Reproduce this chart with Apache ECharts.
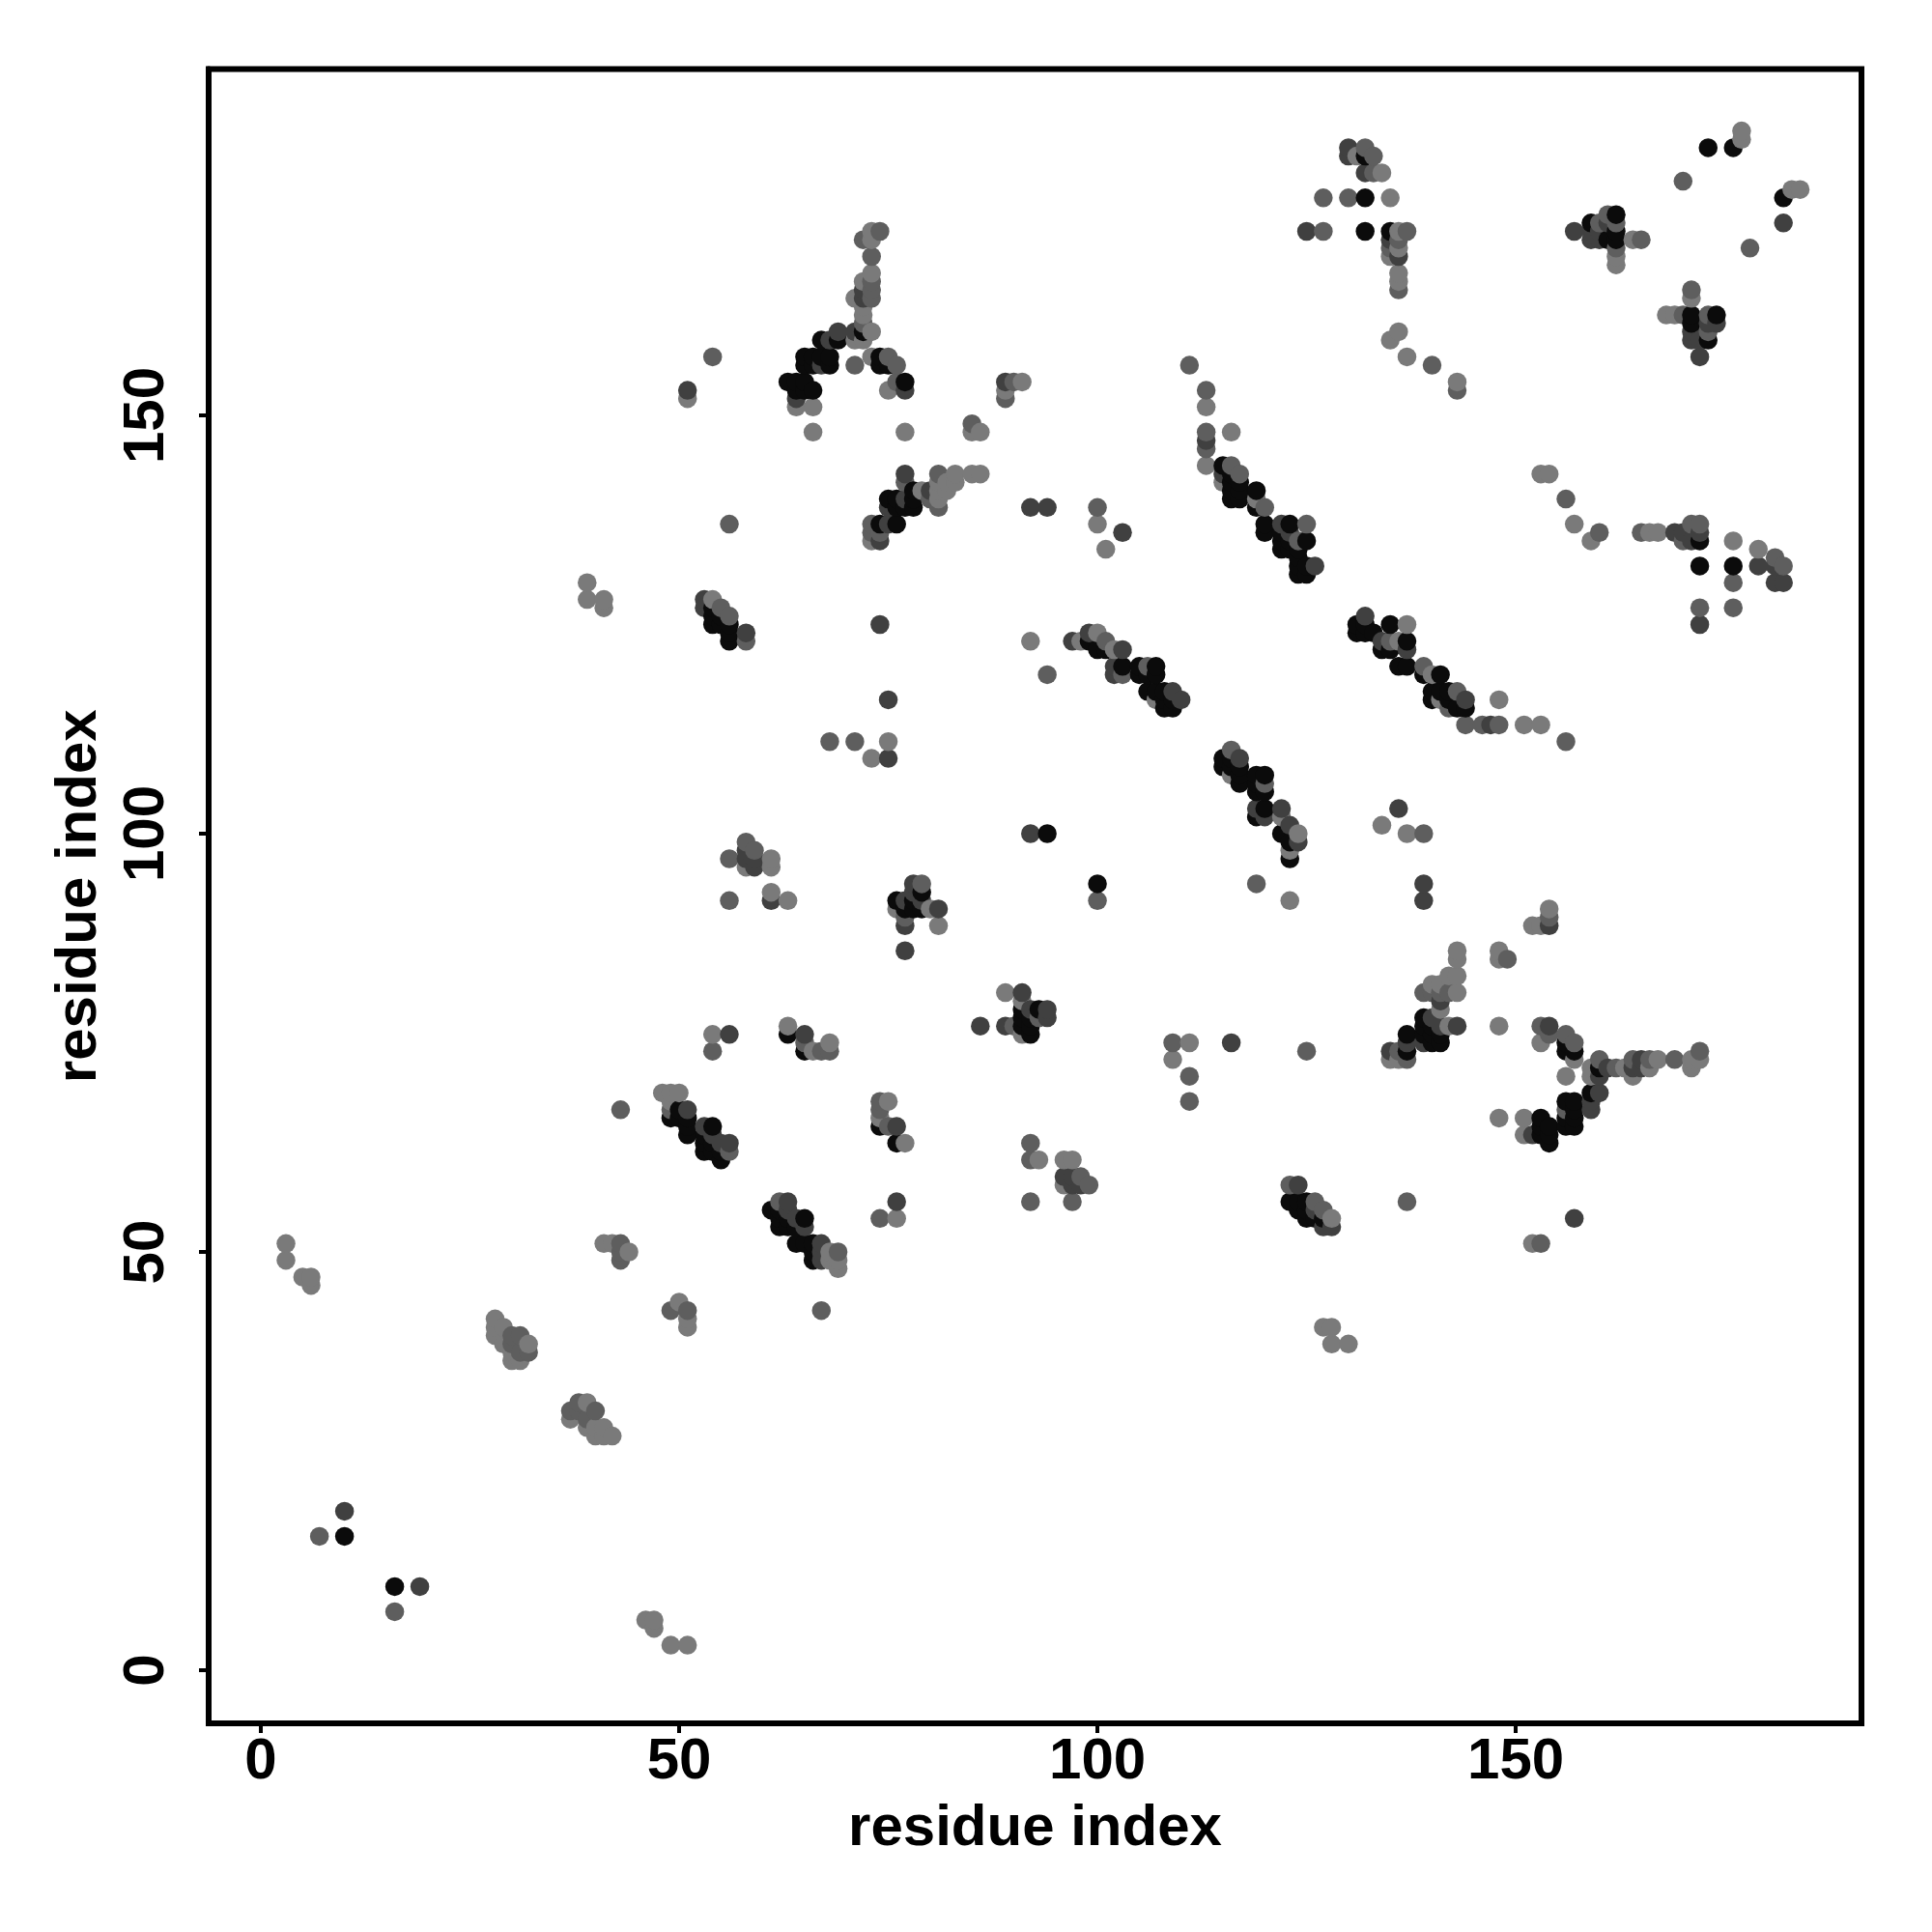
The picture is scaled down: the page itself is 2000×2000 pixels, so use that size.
<!DOCTYPE html>
<html>
<head>
<meta charset="utf-8">
<style>html,body{margin:0;padding:0;background:#fff}#c{width:2000px;height:2000px}</style>
<script src="https://cdn.jsdelivr.net/npm/echarts@6/dist/echarts.min.js"></script>
</head>
<body>
<div id="c"></div>
<script>
// Each contact: [residue i, residue j, strength level 1..4]
const clusterLowLeft = [[3,51,1],[3,49,1],[5,47,1],[6,47,1],[6,46,1],[7,16,2],[10,16,4],[10,19,3],[16,10,4],[19,10,3],[16,7,2],
 [46,6,1],[47,6,1],[47,5,1],[49,3,1],[51,3,1]];
const clusterA = [[28,42,1],[28,41,1],[28,40,1],[29,41,1],[29,39,1],[30,40,2],[30,39,2],[30,38,1],[30,37,1],[31,40,2],[31,38,2],[31,37,1],[32,39,1],[32,38,2],
 [37,31,2],[37,30,1],[38,32,2],[38,31,2],[39,32,1],[39,30,2],[39,29,1],[40,31,2],[40,29,1],[40,28,1],[41,29,1],[41,28,1],[42,28,1],
 [41,51,1],[42,51,1],[43,51,2],[43,49,2],[43,50,2],[44,50,1],[49,43,2],[50,44,1],[51,43,2],[51,42,1],[51,41,1],[67,43,2]];
const clusterB = [[54,76,1],[56,76,3],[54,74,2],[63,77,1],[63,76,4],[65,76,3],[65,75,2],[65,74,4],[66,74,1],[67,74,2],[68,74,2],[68,75,1],
 [48,69,1],[49,69,1],[50,69,1],[49,68,1],[49,67,2],[49,66,4],[50,67,4],[50,66,4],[51,67,3],[51,66,4],[51,65,4],[51,64,4],
 [53,65,3],[54,65,4],[53,64,4],[53,63,4],[53,62,4],[54,64,3],[54,63,4],[54,62,4],[55,63,3],[55,62,4],[55,61,4],[56,63,3],[56,62,2],[43,67,2],
 [74,68,2],[75,68,1],[74,67,2],[74,66,1],[74,65,4],[75,65,2],[76,65,3],[76,63,4],[77,63,1],
 [61,55,4],[62,56,2],[63,56,3],[62,55,4],[62,54,4],[62,53,4],[63,55,3],[63,54,4],[64,54,3],[65,54,4],[65,53,3],[63,53,4],[64,53,4],
 [64,51,4],[65,51,4],[66,51,4],[67,51,3],[66,50,4],[67,50,3],[66,49,4],[67,49,3],[68,50,1],[69,50,2],[68,49,1],[69,49,1],[69,48,1],
 [76,56,3],[74,54,2],[76,54,1]];
const clusterC = [[89,81,1],[91,81,3],[91,80,1],[86,77,3],[89,77,3],[90,77,2],[91,79,4],[91,78,4],[91,77,4],[91,76,1],[92,76,4],[92,77,4],[92,79,3],[92,78,4],[93,79,4],[94,79,3],[94,78,3],[93,78,2],
 [92,63,2],[92,61,2],[93,61,1],[92,56,2],[96,61,1],[97,61,1],[96,59,3],[97,59,3],[96,58,1],[97,58,3],[98,59,2],[98,58,3],[99,58,2],[97,56,2],
 [100,94,4],[100,92,2],[119,94,2],[123,92,1],[139,94,3],[139,92,3],
 [109,75,2],[111,75,1],[109,73,1],[111,71,2],[111,68,2],[116,75,3],[125,74,2],
 [123,58,2],[124,58,3],[123,56,4],[124,56,4],[125,56,4],[126,56,2],[124,55,4],[125,55,4],[126,55,3],[127,55,2],[125,54,4],[126,54,4],[127,54,4],[127,53,3],[128,54,1],[128,53,3],
 [127,41,1],[128,41,1],[128,39,1],[130,39,1],[137,56,2]];
const clusterD = [[135,74,3],[136,74,2],[137,76,4],[137,75,3],[137,74,4],[135,73,1],[136,73,1],[137,73,2],
 [139,78,4],[139,77,4],[139,76,4],[140,78,3],[140,75,4],[139,75,3],[141,77,3],[141,79,1],[141,80,3],[141,81,2],[139,81,2],[140,81,2],[140,82,1],[141,82,1],[142,83,1],[143,83,1],[142,81,2],[143,81,1],[143,86,1],[143,85,1],[142,77,1],[143,77,3],[140,77,4],[140,76,4],[141,76,4],[141,75,4],
 [148,86,1],[148,85,1],[149,85,2],[148,77,1],
 [154,91,1],[154,90,2],[154,89,3],[152,89,1],[153,89,1],
 [153,77,2],[154,77,3],[154,76,2],[153,75,1],[156,76,2],[157,75,2],[156,75,4],[156,74,4],[157,74,4],[157,73,1],[156,71,1],
 [160,73,2],[159,72,1],[159,71,1],[160,72,4],[160,71,3],[161,72,3],[162,72,2],[163,72,1],[164,73,2],[164,72,3],[165,73,3],[165,72,3],[164,71,1],[166,73,2],[166,72,1],[167,73,1],[169,73,2],[171,73,1],[172,73,1],[172,74,2],[171,72,1],
 [159,69,4],[160,69,3],[159,68,3],[159,67,3],[156,68,4],[157,68,4],[156,67,2],[157,67,4],[156,66,4],[157,66,4],[156,65,4],[157,65,4],
 [153,66,4],[154,65,4],[153,65,4],[153,64,4],[154,64,4],[154,63,4],[152,64,3],[151,66,1],[151,64,1],[148,66,1],[157,54,3],[152,51,1],[153,51,2]];
const clusterE = [[72,171,2],[73,172,1],[74,172,2],[73,171,1],[73,169,2],[72,166,1],[73,167,1],[73,166,2],[73,165,2],[72,165,3],[72,164,3],[73,164,2],[71,164,1],[72,163,1],[72,162,1],[72,161,2],[71,160,3],[72,160,4],[73,160,1],[71,159,1],[72,159,1],
 [67,159,4],[68,159,3],[69,159,4],[69,160,3],[65,157,4],[66,157,4],[67,157,4],[68,157,4],[65,156,4],[66,156,4],[67,156,3],[68,156,4],
 [71,156,2],[73,157,1],[74,157,4],[74,156,4],[75,157,2],[75,156,4],[76,156,2],[76,154,2],[77,154,4],[77,153,3],[75,153,1],
 [63,154,4],[64,154,4],[65,154,4],[64,153,4],[65,153,4],[66,153,4],[64,152,3],[64,151,1],[66,151,1],[66,148,1],[77,148,1],[54,157,2],[51,153,3],[51,152,1],
 [89,154,3],[90,154,2],[91,154,1],[89,153,1],[89,152,2],[85,149,2],[85,148,1],[86,148,1],
 [77,143,3],[77,142,2],[81,143,2],[83,143,1],[85,143,1],[86,143,1],[81,142,1],[82,142,1],[83,142,1],[81,141,1],[82,141,1],[79,141,1],[80,141,3],[78,141,4],[77,140,3],[75,140,4],[76,140,4],[78,140,4],[75,139,3],[76,139,4],[77,139,4],[78,139,4],[81,139,2],[80,140,2],[81,140,1],
 [73,137,2],[74,137,4],[75,137,3],[76,137,4],[73,136,2],[74,136,2],[73,135,1],[74,135,3],[92,139,3],[94,139,3],[56,137,2]];
const clusterF = [[111,156,2],[113,153,2],[113,151,1],[113,148,2],[113,147,3],[113,146,2],[113,144,1],[116,148,1],
 [115,144,4],[116,144,2],[117,143,2],[115,143,3],[116,143,4],[115,142,1],[116,142,4],[117,142,4],[116,141,4],[117,141,4],[116,140,4],[117,140,4],[119,141,4],[119,139,4],[120,139,2],[119,140,1],
 [120,137,4],[120,136,4],[122,137,3],[123,137,4],[125,137,2],[122,136,4],[123,136,3],[122,135,4],[123,135,4],[124,135,2],[125,135,4],[122,134,4],[123,134,4],[124,134,4],[124,133,4],[124,132,4],[125,132,4],[126,132,3],[124,131,4],[125,131,4],
 [100,139,2],[100,137,1],[103,136,3],[101,134,1],
 [97,123,3],[98,123,1],[99,124,3],[100,124,1],[99,123,4],[100,122,4],[101,123,2],[101,122,4],[102,122,1],[103,122,3],[102,120,3],[103,120,4],[102,119,3],[103,119,2],
 [105,120,4],[106,120,2],[107,120,4],[105,119,4],[106,119,4],[107,119,4],[106,117,4],[107,117,4],[108,117,4],[109,117,3],[110,116,3],[107,116,1],[108,116,4],[109,116,4],[108,115,4],[109,115,4],[94,119,2]];
const clusterG = [[131,125,4],[132,126,3],[131,124,4],[132,124,4],[133,124,4],[132,125,4],[135,125,4],[137,125,1],[134,123,3],[135,123,2],[136,123,1],[137,123,4],[134,122,4],[135,122,4],[137,122,3],[136,120,4],[137,120,4],[139,120,2],[139,119,4],[140,119,1],[141,119,4],
 [140,117,4],[141,117,4],[140,116,4],[141,116,1],[142,117,4],[143,117,2],[142,116,4],[144,116,3],[142,115,2],[143,115,4],[144,115,4],
 [144,113,2],[146,113,2],[147,113,3],[148,113,2],[148,116,1],[151,113,1],[153,113,1],[156,111,2],
 [172,127,2],[172,125,3],[176,127,2],[136,103,3],[134,101,1],[137,100,1],[139,100,2],
 [116,110,2],[117,109,3],[115,109,4],[116,109,4],[115,108,4],[116,108,4],[117,108,4],[116,107,1],[117,107,4],[117,106,4],[119,107,4],[120,107,4],[119,106,4],[120,106,2],[119,105,4],[120,105,4],
 [119,103,3],[120,103,4],[119,102,4],[120,102,3],[122,103,3],[122,102,1],[123,101,3],[122,100,4],[124,100,1],[123,99,4],[124,99,3],[123,98,1],[123,97,4]];
const clusterH = [[130,182,3],[130,181,3],[132,182,2],[131,181,1],[132,181,4],[133,181,2],[132,179,3],[133,179,2],[134,179,1],
 [127,176,2],[130,176,2],[132,176,4],[135,176,1],[125,172,3],[127,172,2],[132,172,4],[135,172,4],[136,172,1],[137,172,2],[135,171,3],[136,171,2],[135,170,2],[136,170,1],[135,169,1],[136,169,3],[136,167,1],[136,166,1],[136,165,2],
 [136,160,1],[135,159,1],[137,157,1],[140,156,2],[143,154,1],[143,153,2],
 [157,172,3],[159,173,4],[159,172,3],[159,171,3],[160,173,2],[160,172,3],[160,171,3],[161,174,2],[162,174,4],[161,171,4],[162,172,4],[162,171,4],[161,173,3],[162,173,2],[162,170,2],[162,169,1],[162,168,1],[164,171,1],[165,171,2],
 [173,182,4],[176,182,4],[177,183,1],[177,184,1],[170,178,2],[182,176,4],[183,177,1],[184,177,1],[182,173,3],[178,170,2],
 [171,165,2],[171,164,1],[168,162,1],[169,162,1],[170,162,2],[171,162,4],[173,162,2],[174,162,4],[171,161,4],[174,161,3],[173,161,3],[171,160,3],[173,160,2],[171,159,3],[172,159,3],[173,159,4],[172,157,3]];
const clusterI = [[153,143,1],[154,143,1],[156,140,2],[157,137,1],[159,135,1],[160,136,2],[165,136,2],[166,136,1],[167,136,1],[169,136,3],[170,136,3],[171,137,2],[170,135,2],[172,137,2],[171,135,3],[172,135,4],[172,136,3],[172,132,4],[176,135,1],[176,132,4],[176,130,2],[179,132,3],[179,134,1],[181,133,2],[181,132,3],[182,132,2],[181,130,3],[182,130,3],
 [39,130,1],[39,128,1],[41,128,1],[41,127,1],[53,128,3],[53,127,3],[54,128,1],[54,127,4],[54,126,4],[55,127,2],[54,125,4],[55,126,4],[55,125,4],[56,126,2],[56,125,4],[56,124,4],[56,123,4],[58,124,3],[58,123,2],
 [74,125,3],[92,123,1],[75,116,3],[68,111,2],[71,111,2],[75,111,1],[73,109,1],[75,109,3],[92,100,3],[94,100,4],
 [58,99,2],[59,98,2],[56,97,2],[58,98,3],[58,97,3],[59,97,3],[61,97,1],[58,96,1],[59,96,3],[61,96,1],[56,92,2],[61,93,1],[61,92,3],[63,92,1],
 [78,94,3],[79,94,2],[79,93,4],[78,93,3],[76,92,4],[77,92,3],[78,92,4],[79,92,3],[76,91,1],[77,91,4],[78,91,4],[79,91,4],[80,91,1],[81,91,3],[77,90,2],[77,89,3],[81,89,1],[77,86,3]];

const xTickValues = [0, 50, 100, 150];
const yTickValues = [0, 50, 100, 150];
const axisName = 'residue index';
const levelGrey = {1: '#7a7a7a', 2: '#5e5e5e', 3: '#404040', 4: '#0b0b0b'};

const allContacts = [].concat(clusterLowLeft, clusterA, clusterB, clusterC, clusterD, clusterE, clusterF, clusterG, clusterH, clusterI)
  .sort((a, b) => a[0] - b[0] || a[1] - b[1]);

const font = {fontFamily: '"Liberation Sans", Arial, sans-serif', fontWeight: 'bold', fontSize: 60, color: '#000'};
const chart = echarts.init(document.getElementById('c'), null, {renderer: 'canvas'});
chart.setOption({
  animation: false,
  backgroundColor: '#fff',
  grid: {left: 216, top: 71.5, width: 1711, height: 1712.5, show: true, borderColor: '#000', borderWidth: 6, backgroundColor: 'transparent'},
  xAxis: {
    type: 'value', min: -6.24, max: 191.33, name: axisName, nameLocation: 'middle', nameGap: 79,
    nameTextStyle: font,
    splitLine: {show: false},
    axisLine: {show: true, onZero: false, lineStyle: {color: '#000', width: 6}},
    axisTick: {show: true, length: 10, lineStyle: {color: '#000', width: 4}, customValues: xTickValues},
    axisLabel: {show: true, margin: 10, customValues: xTickValues, ...font}
  },
  yAxis: {
    type: 'value', min: -6.35, max: 191.4, name: axisName, nameLocation: 'middle', nameGap: 104,
    nameTextStyle: font,
    splitLine: {show: false},
    axisLine: {show: true, onZero: false, lineStyle: {color: '#000', width: 6}},
    axisTick: {show: true, length: 10, lineStyle: {color: '#000', width: 4}, customValues: yTickValues},
    axisLabel: {show: true, rotate: 90, margin: 34, customValues: yTickValues, ...font}
  },
  series: [{
    type: 'scatter', symbol: 'circle', symbolSize: 19.5,
    itemStyle: {opacity: 1},
    data: allContacts.map(p => ({value: [p[0], p[1]], itemStyle: {color: levelGrey[p[2]], opacity: 1}})),
    emphasis: {disabled: true}, silent: true, large: false
  }]
});
</script>
</body>
</html>
